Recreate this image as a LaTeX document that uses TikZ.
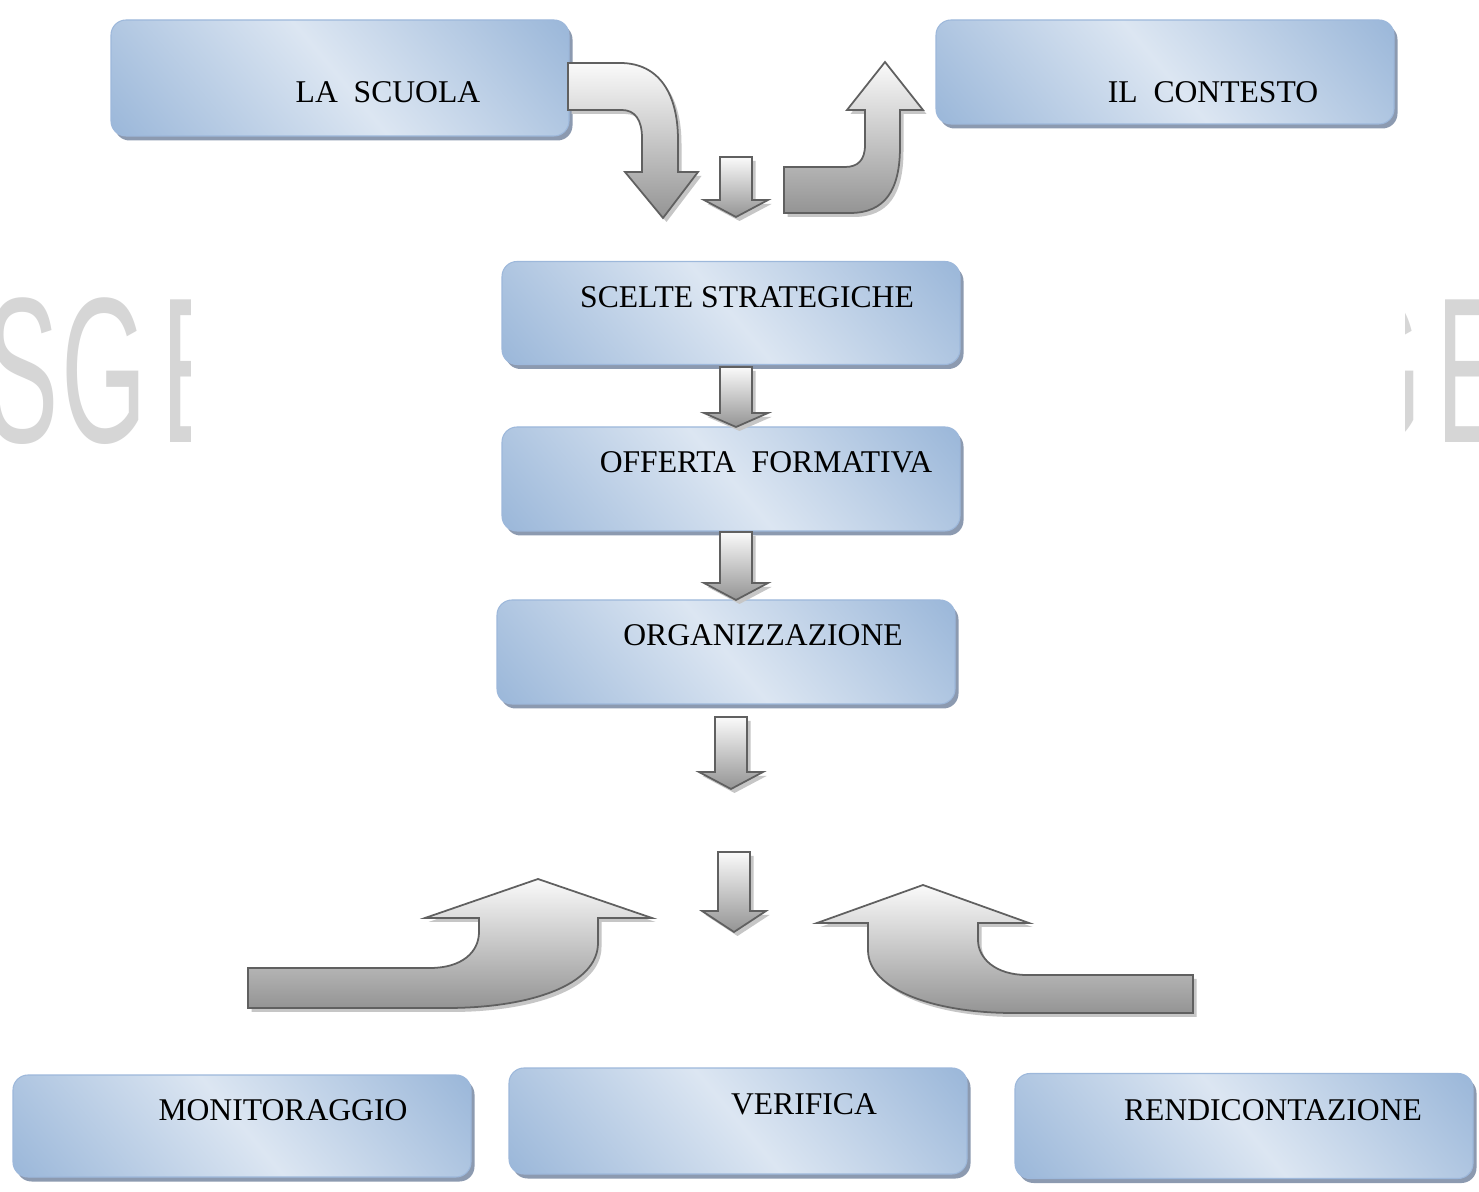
\documentclass[tikz,border=0pt]{standalone}
\usepackage{fontspec}
\setmainfont{Liberation Serif}
\newfontfamily\wmfont{Liberation Sans}
\usepackage{tikz}
\usetikzlibrary{shadows}

\definecolor{boxblue}{HTML}{95B3D7}
\definecolor{boxlight}{HTML}{DCE6F2}
\definecolor{boxedge}{HTML}{9DB8DB}
\definecolor{boxshade}{HTML}{8C9AB0}
\definecolor{arrowline}{HTML}{606060}
\definecolor{arrowtop}{HTML}{FAFAFA}
\definecolor{arrowbot}{HTML}{949494}
\definecolor{arrowshade}{HTML}{C6C6C6}
\definecolor{wmgray}{HTML}{D6D6D6}

\pgfdeclarehorizontalshading{boxshading}{100bp}{color(0bp)=(boxblue); color(12bp)=(boxblue);
  color(50bp)=(boxlight); color(88bp)=(boxblue); color(100bp)=(boxblue)}

\begin{document}
\begin{tikzpicture}[x=0.1mm, y=-0.1mm,
  blockbox/.style={rounded corners=1.5mm, draw=boxedge, line width=0.3pt,
    shading=boxshading, shading angle=40,
    minimum width=45.8mm, minimum height=10.4mm, inner sep=0pt,
    drop shadow={shadow xshift=0.35mm, shadow yshift=-0.45mm, fill=boxshade, opacity=1}},
  boxtext/.style={font=\fontsize{9}{11}\selectfont, inner sep=0pt},
  blockarrow/.style={draw=arrowline, line width=0.5pt, top color=arrowtop, bottom color=arrowbot,
    drop shadow={shadow xshift=0.35mm, shadow yshift=-0.4mm, fill=arrowshade, opacity=1}},
  watermark/.style={font=\wmfont\fontsize{59}{60}\selectfont, text=wmgray, xscale=0.53,
    inner sep=0pt, anchor=base}]

\fill[white] (0,0) rectangle (1479,1192);
\useasboundingbox (0,0) rectangle (1479,1192);

% Watermark, seen only at the sides
\begin{scope}
  \clip (0,250) rectangle (190,480);
  \node[watermark] (wmS) at (22,443) {S};
  \node[watermark] (wmG) at (104,443) {G};
  \node[watermark] (wmE) at (198,443) {E};
\end{scope}
\begin{scope}
  \clip (1405,250) rectangle (1479,480);
  \node[watermark] (wmGr) at (1379,443) {G};
  \node[watermark] (wmEr) at (1473,443) {E};
\end{scope}

% Boxes
\node[blockbox, minimum height=11.6mm] (scuola) at (340,78) {};
\node[blockbox] (contesto) at (1165,72) {};
\node[blockbox, minimum height=10.3mm] (scelte) at (731,313) {};
\node[blockbox] (offerta) at (731,479) {};
\node[blockbox] (organizz) at (726,652) {};
\node[blockbox, minimum height=10.2mm] (monitor) at (242,1126) {};
\node[blockbox, minimum height=10.6mm] (verifica) at (738,1121) {};
\node[blockbox, minimum height=10.5mm] (rendic) at (1244,1126) {};

% Labels
\node[boxtext] (scuolatxt) at (388,92) {LA\ \ SCUOLA};
\node[boxtext] (contestotxt) at (1213,92) {IL\ \ CONTESTO};
\node[boxtext] (sceltetxt) at (747,297) {SCELTE STRATEGICHE};
\node[boxtext] (offertatxt) at (766,462) {OFFERTA\ \ FORMATIVA};
\node[boxtext] (organizztxt) at (763,635) {ORGANIZZAZIONE};
\node[boxtext] (monitortxt) at (283,1110) {MONITORAGGIO};
\node[boxtext] (verificatxt) at (804,1104) {VERIFICA};
\node[boxtext] (rendictxt) at (1273,1110) {RENDICONTAZIONE};

% Straight block arrows
\foreach \xc/\ytop/\ybase/\ytip in {736/157/200/217, 736/367/413/427, 736/532/583/600, 731/717/772/789, 734/852/911/932} {
  \draw[blockarrow] (\xc-16,\ytop) -- (\xc+16,\ytop) -- (\xc+16,\ybase) -- (\xc+32,\ybase)
    -- (\xc,\ytip) -- (\xc-32,\ybase) -- (\xc-16,\ybase) -- cycle;
}

% Curved block arrows
\draw[blockarrow] (568,63) -- (620,63) .. controls (660,63) and (678,95) .. (678,140) -- (678,172)
  -- (698,172) -- (663,218) -- (625,172) -- (642,172) -- (642,138)
  .. controls (642,120) and (635,110) .. (622,110) -- (568,110) -- cycle;
\draw[blockarrow] (784,213) -- (850,213) .. controls (885,213) and (900,190) .. (900,147) -- (900,110)
  -- (923,110) -- (885,62) -- (847,110) -- (865,110) -- (865,145)
  .. controls (865,160) and (858,167) .. (845,167) -- (784,167) -- cycle;
\draw[blockarrow] (248,968) -- (430,968) .. controls (462,968) and (479,952) .. (479,932) -- (479,918)
  -- (425,918) -- (538,879) -- (652,918) -- (598,918) -- (598,943)
  .. controls (598,985) and (530,1008) .. (447,1008) -- (248,1008) -- cycle;
\draw[blockarrow] (1193,975) -- (1027,975) .. controls (995,975) and (978,958) .. (978,940) -- (978,923)
  -- (1029,923) -- (923,885) -- (817,923) -- (868,923) -- (868,950)
  .. controls (868,990) and (935,1013) .. (1013,1013) -- (1193,1013) -- cycle;

\end{tikzpicture}
\end{document}
